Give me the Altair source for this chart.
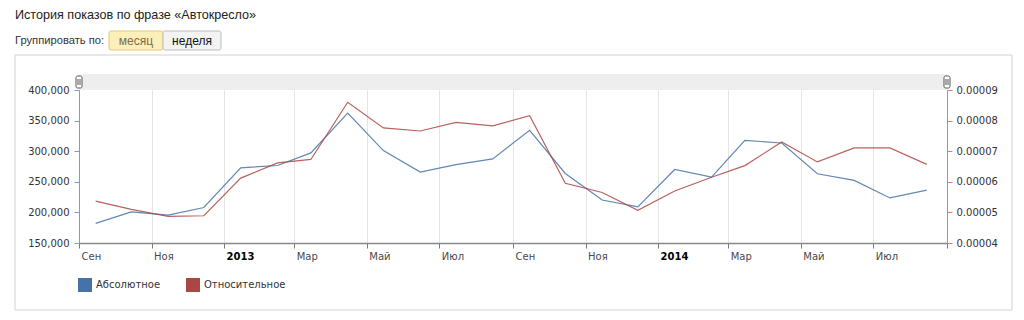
import altair as alt
import pandas as pd

# ---- data ----
MONTHS = ["2012-09", "2012-10", "2012-11", "2012-12", "2013-01", "2013-02", "2013-03", "2013-04",
          "2013-05", "2013-06", "2013-07", "2013-08", "2013-09", "2013-10", "2013-11", "2013-12",
          "2014-01", "2014-02", "2014-03", "2014-04", "2014-05", "2014-06", "2014-07", "2014-08"]
ABSOLUTE = [182000, 200800, 195500, 208000, 272900, 276600, 297200, 362100,
            301000, 265800, 278200, 287500, 334000, 263600, 220300, 209000,
            270100, 257700, 317700, 313400, 263100, 252300, 223600, 236500]
RELATIVE = [0.0000537, 0.0000510, 0.0000487, 0.0000489, 0.0000612, 0.0000662, 0.0000673, 0.0000860,
            0.0000776, 0.0000766, 0.0000794, 0.0000783, 0.0000816, 0.0000595, 0.0000565, 0.0000507,
            0.0000570, 0.0000615, 0.0000653, 0.0000730, 0.0000665, 0.0000711, 0.0000711, 0.0000657]
SERIES = ["Абсолютное", "Относительное"]
COLORS = ["#4572A7", "#AA4643"]
MONTH_NAMES = ["Янв", "Фев", "Мар", "Апр", "Май", "Июн", "Июл", "Авг", "Сен", "Окт", "Ноя", "Дек"]
LEFT_TICKS = [150000, 200000, 250000, 300000, 350000, 400000]
RIGHT_TICKS = [0.00004, 0.00005, 0.00006, 0.00007, 0.00008, 0.00009]
X_TICKS = [(2012, 9), (2012, 11), (2013, 1), (2013, 3), (2013, 5), (2013, 7), (2013, 9),
           (2013, 11), (2014, 1), (2014, 3), (2014, 5), (2014, 7), (2014, 9)]
TITLE = "История показов по фразе «Автокресло»"
GROUP_LABEL = "Группировать по:"
BTN_MONTH = "месяц"
BTN_WEEK = "неделя"

rows = []
for m, a, r in zip(MONTHS, ABSOLUTE, RELATIVE):
    rows.append({"date": m + "-15", "series": SERIES[0], "value": a})
    rows.append({"date": m + "-15", "series": SERIES[1], "value": r})
df = pd.DataFrame(rows)
deco = pd.DataFrame({"k": [0]})

W, H = 868, 153
FONT = "DejaVu Sans"
UIFONT = "Liberation Sans"

month_arr = "[" + ",".join("'%s'" % n for n in MONTH_NAMES) + "]"
label_expr = ("(utcyear(datum.value)==2014 && utcmonth(datum.value)==8) ? '' : "
              "(utcmonth(datum.value)==0 ? '' + utcyear(datum.value) : %s[utcmonth(datum.value)])" % month_arr)

x_enc = alt.X(
    "date:T",
    scale=alt.Scale(type="utc", domain=[alt.DateTime(year=2012, month=9, date=1, utc=True),
                                        alt.DateTime(year=2014, month=9, date=1, utc=True)]),
    axis=alt.Axis(
        title=None,
        values=[alt.DateTime(year=y, month=m, date=1, utc=True) for y, m in X_TICKS],
        labelExpr=label_expr,
        labelAlign="left", labelOffset=2, labelPadding=3,
        labelFont=FONT, labelFontSize=10,
        labelColor={"condition": {"test": "utcmonth(datum.value)==0", "value": "#000"}, "value": "#4a4a4a"},
        labelFontWeight={"condition": {"test": "utcmonth(datum.value)==0", "value": "bold"}, "value": "normal"},
        grid=True, gridColor="#e4e4e4", gridWidth=1,
        domainColor="#888", domainWidth=1.5, tickColor="#777", tickSize=5,
        labelFlush=False, labelOverlap=False,
    ),
)

legend = alt.Legend(
    title=None, orient="none", legendX=-1, legendY=188, direction="horizontal",
    symbolType="square", symbolSize=196, symbolStrokeWidth=0, symbolOpacity=1,
    labelFont=FONT, labelFontSize=10, labelColor="#333", labelOffset=4,
    columnPadding=25, padding=0,
)
color_enc = alt.Color("series:N", scale=alt.Scale(domain=SERIES, range=COLORS), legend=legend)

base = alt.Chart(df)

legend_layer = base.mark_square(filled=True, opacity=1).encode(
    x=x_enc, color=color_enc
).transform_filter("false")

blue = base.mark_line(strokeWidth=1.2, opacity=0.85).encode(
    x=x_enc,
    y=alt.Y("value:Q", scale=alt.Scale(domain=[150000, 400000], nice=False, zero=False),
            axis=alt.Axis(orient="left", title=None, values=LEFT_TICKS, format=",.0f", grid=False,
                          domainColor="#7b9cc9", tickColor="#7b9cc9", tickSize=5, labelPadding=5,
                          labelFont=FONT, labelFontSize=10, labelColor="#333")),
    color=color_enc,
).transform_filter(alt.datum.series == SERIES[0])

red = base.mark_line(strokeWidth=1.2, opacity=0.85).encode(
    x=x_enc,
    y=alt.Y("value:Q", scale=alt.Scale(domain=[0.00004, 0.00009], nice=False, zero=False),
            axis=alt.Axis(orient="right", title=None, values=RIGHT_TICKS, format=".5f", grid=False,
                          domainColor="#d27f7f", tickColor="#d27f7f", tickSize=5, labelPadding=4,
                          labelFont=FONT, labelFontSize=10, labelColor="#333")),
    color=color_enc,
).transform_filter(alt.datum.series == SERIES[1])

d = alt.Chart(deco)
box = d.mark_rect(filled=False, stroke="#d2d2d2", strokeWidth=1).encode(
    x=alt.value(-64), x2=alt.value(933), y=alt.value(-35), y2=alt.value(220))
band = d.mark_rect(color="#eeeeee").encode(
    x=alt.value(0), x2=alt.value(W), y=alt.value(-16), y2=alt.value(0))
handle_l = d.mark_rect(fill="white", stroke="#555", strokeWidth=1, cornerRadius=1.5).encode(
    x=alt.value(-3), x2=alt.value(3), y=alt.value(-14), y2=alt.value(-2))
handle_r = d.mark_rect(fill="white", stroke="#555", strokeWidth=1, cornerRadius=1.5).encode(
    x=alt.value(W - 3), x2=alt.value(W + 3), y=alt.value(-14), y2=alt.value(-2))
grip = []
for gx in [-1, 1, W - 1, W + 1]:
    grip.append(d.mark_rule(color="#555", strokeWidth=1).encode(
        x=alt.value(gx), y=alt.value(-11), y2=alt.value(-5)))

title_t = d.mark_text(text=TITLE, align="left", baseline="middle", font=UIFONT, fontSize=12.6,
                      color="#222").encode(x=alt.value(-64), y=alt.value(-75))
group_t = d.mark_text(text=GROUP_LABEL, align="left", baseline="middle", font=UIFONT, fontSize=11.2,
                      color="#333").encode(x=alt.value(-64), y=alt.value(-49))
btn1 = d.mark_rect(fill="#fdefb9", stroke="#e2c878", strokeWidth=1, cornerRadius=2).encode(
    x=alt.value(30), x2=alt.value(84), y=alt.value(-59), y2=alt.value(-40))
btn2 = d.mark_rect(fill="#f3f3f3", stroke="#bdbdbd", strokeWidth=1, cornerRadius=2).encode(
    x=alt.value(84), x2=alt.value(142), y=alt.value(-59), y2=alt.value(-40))
btn1_t = d.mark_text(text=BTN_MONTH, align="center", baseline="middle", font=UIFONT, fontSize=12,
                     color="#7d6d45").encode(x=alt.value(57), y=alt.value(-49))
btn2_t = d.mark_text(text=BTN_WEEK, align="center", baseline="middle", font=UIFONT, fontSize=12,
                     color="#111").encode(x=alt.value(113), y=alt.value(-49))

chart = alt.layer(
    box, band, title_t, group_t, btn1, btn2, btn1_t, btn2_t,
    legend_layer, blue, red, handle_l, handle_r, *grip
).resolve_scale(y="independent").properties(
    width=W, height=H,
    autosize=alt.AutoSizeParams(type="none"),
    padding={"left": 79, "top": 90, "right": 77, "bottom": 77},
    background="white",
).configure_view(stroke=None)

chart.save("out.html", embed_options={"renderer": "svg", "actions": False})
